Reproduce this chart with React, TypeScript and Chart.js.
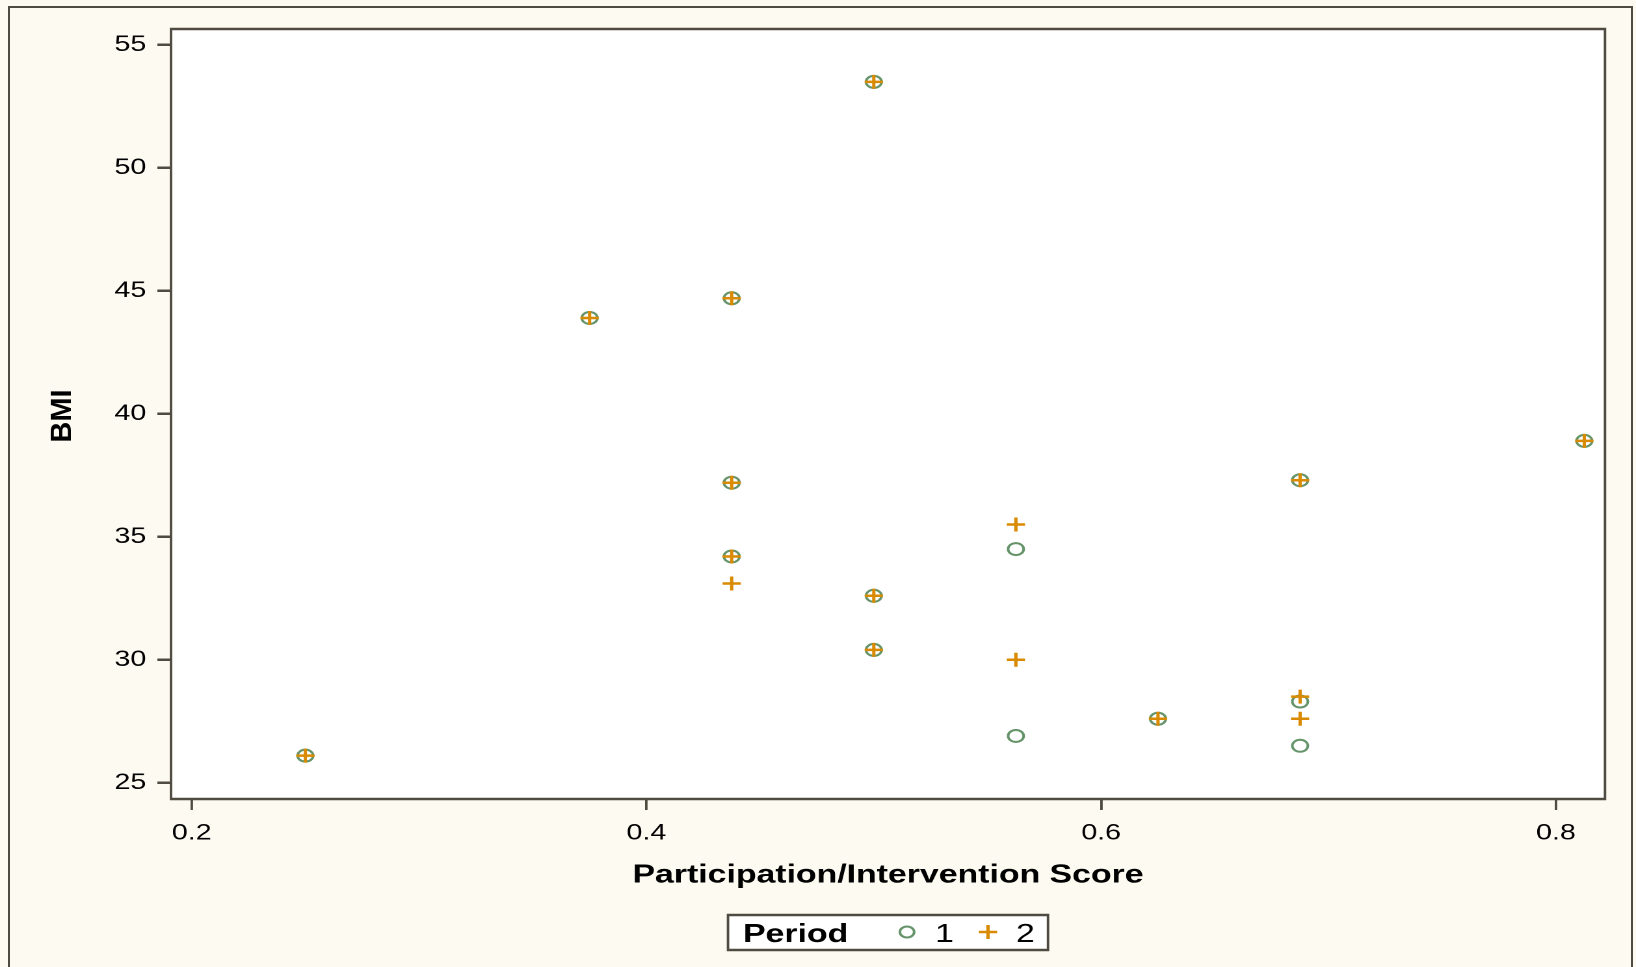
import React, { useEffect, useRef } from 'react';
import { Chart, registerables } from 'chart.js';

Chart.register(...registerables);

// Page and drawing surface. The canvas is laid out narrower and widened with
// a horizontal CSS scale, which gives the wide glyphs and oval markers.
const PAGE_W = 1636;
const PAGE_H = 967;
const CANVAS_W = 1258;
const SX = PAGE_W / CANVAS_W;

const FONT = '"Liberation Sans", Arial, Helvetica, sans-serif';
const BG = '#fdfaf2';
const FRAME = '#4f4b40';
const GREEN = '#66946a';
const ORANGE = '#d98a00';

const xTicks = [0.2, 0.4, 0.6, 0.8];
const yTicks = [25, 30, 35, 40, 45, 50, 55];

const xTitle = 'Participation/Intervention Score';
const yTitle = 'BMI';
const legendTitle = 'Period';
const seriesNames = ['1', '2'];

// Period 1 (circles)
const period1X = [0.25, 0.375, 0.4375, 0.5, 0.4375, 0.4375, 0.5, 0.5, 0.5625, 0.5625, 0.625, 0.6875, 0.6875, 0.6875, 0.8125];
const period1Y = [26.1, 43.9, 44.7, 53.5, 37.2, 34.2, 32.6, 30.4, 34.5, 26.9, 27.6, 37.3, 28.3, 26.5, 38.9];

// Period 2 (plus signs)
const period2X = [0.25, 0.375, 0.4375, 0.5, 0.4375, 0.4375, 0.4375, 0.5, 0.5, 0.5625, 0.5625, 0.625, 0.6875, 0.6875, 0.6875, 0.8125];
const period2Y = [26.1, 43.9, 44.7, 53.5, 37.2, 34.2, 33.1, 32.6, 30.4, 35.5, 30.0, 27.6, 37.3, 28.5, 27.6, 38.9];

const toPoints = (xs: number[], ys: number[]) => xs.map((x, i) => ({ x, y: ys[i] }));

const decorPlugin = {
  id: 'decor',
  beforeDraw(chart: any) {
    const { ctx, chartArea: a } = chart;
    ctx.save();
    ctx.fillStyle = '#ffffff';
    ctx.fillRect(a.left, a.top, a.right - a.left, a.bottom - a.top);
    ctx.restore();
  },
  afterDraw(chart: any) {
    const { ctx, chartArea: a } = chart;

    // plot border and y title, drawn in unstretched page units
    ctx.save();
    ctx.scale(1 / SX, 1);
    ctx.strokeStyle = FRAME;
    ctx.lineWidth = 2.5;
    ctx.strokeRect(a.left * SX, a.top, (a.right - a.left) * SX, a.bottom - a.top);

    ctx.fillStyle = '#000';
    ctx.font = `bold 29px ${FONT}`;
    ctx.textAlign = 'center';
    ctx.textBaseline = 'alphabetic';
    ctx.translate(71, (a.top + a.bottom) / 2 + 2);
    ctx.rotate(-Math.PI / 2);
    ctx.fillText(yTitle, 0, 0);
    ctx.restore();

    // legend
    const cx = (a.left + a.right) / 2;
    const boxW = 320 / SX;
    const bx = cx - boxW / 2;
    const by = 915;
    const bh = 35;
    ctx.save();
    ctx.scale(1 / SX, 1);
    ctx.fillStyle = '#ffffff';
    ctx.fillRect(bx * SX, by, boxW * SX, bh);
    ctx.strokeStyle = FRAME;
    ctx.lineWidth = 2.5;
    ctx.strokeRect(bx * SX, by, boxW * SX, bh);
    ctx.restore();

    ctx.save();
    ctx.fillStyle = '#000';
    ctx.textBaseline = 'alphabetic';
    ctx.textAlign = 'left';
    const baseY = 942;
    ctx.font = `bold 26px ${FONT}`;
    ctx.fillText(legendTitle, bx + 15 / SX, baseY);
    ctx.font = `26px ${FONT}`;
    ctx.fillText(seriesNames[0], bx + 207 / SX, baseY);
    ctx.fillText(seriesNames[1], bx + 288 / SX, baseY);

    const my = 932;
    ctx.strokeStyle = GREEN;
    ctx.lineWidth = 2;
    ctx.beginPath();
    ctx.arc(bx + 179 / SX, my, 5.5, 0, Math.PI * 2);
    ctx.stroke();

    const px = bx + 260 / SX;
    ctx.strokeStyle = ORANGE;
    ctx.lineWidth = 2.5;
    ctx.beginPath();
    ctx.moveTo(px - 7, my);
    ctx.lineTo(px + 7, my);
    ctx.moveTo(px, my - 7);
    ctx.lineTo(px, my + 7);
    ctx.stroke();
    ctx.restore();
  },
};

export default function App() {
  const canvasRef = useRef<HTMLCanvasElement | null>(null);

  useEffect(() => {
    const canvas = canvasRef.current;
    if (!canvas) return;
    const chart = new Chart(canvas, {
      type: 'scatter',
      data: {
        datasets: [
          {
            label: seriesNames[0],
            data: toPoints(period1X, period1Y),
            pointStyle: 'circle',
            pointRadius: 6,
            borderWidth: 2,
            borderColor: GREEN,
            backgroundColor: 'rgba(0,0,0,0)',
            order: 2,
          },
          {
            label: seriesNames[1],
            data: toPoints(period2X, period2Y),
            pointStyle: 'cross',
            pointRadius: 7,
            borderWidth: 2.5,
            borderColor: ORANGE,
            backgroundColor: ORANGE,
            order: 1,
          },
        ],
      },
      options: {
        animation: false,
        responsive: true,
        maintainAspectRatio: false,
        devicePixelRatio: 2,
        events: [],
        layout: { padding: { top: 29, right: CANVAS_W - 1605 / SX, bottom: 76, left: 0 } },
        plugins: { legend: { display: false }, tooltip: { enabled: false } },
        scales: {
          x: {
            type: 'linear',
            min: 0.1909,
            max: 0.8216,
            afterBuildTicks: (s: any) => {
              s.ticks = xTicks.map((v) => ({ value: v }));
            },
            afterFit: (s: any) => {
              s.height = 92;
            },
            grid: {
              drawOnChartArea: false,
              drawTicks: true,
              tickLength: 11,
              color: FRAME,
              lineWidth: 2.5 / SX,
            },
            border: { display: false },
            ticks: {
              padding: 10,
              color: '#000',
              font: { family: FONT, size: 22 },
              callback: (v: any) => Number(v).toFixed(1),
            },
            title: {
              display: true,
              text: xTitle,
              color: '#000',
              font: { family: FONT, size: 26, weight: 'bold' },
              padding: 0,
            },
          },
          y: {
            type: 'linear',
            min: 24.337,
            max: 55.65,
            afterBuildTicks: (s: any) => {
              s.ticks = yTicks.map((v) => ({ value: v }));
            },
            afterFit: (s: any) => {
              s.width = 171 / SX;
            },
            grid: {
              drawOnChartArea: false,
              drawTicks: true,
              tickLength: 10.5,
              color: FRAME,
              lineWidth: 2.5,
            },
            border: { display: false },
            ticks: {
              padding: 8.5,
              color: '#000',
              font: { family: FONT, size: 22 },
            },
          },
        },
      },
      plugins: [decorPlugin],
    });
    return () => chart.destroy();
  }, []);

  return (
    <div
      style={{
        position: 'fixed',
        left: 0,
        top: 0,
        width: PAGE_W,
        height: PAGE_H,
        background: BG,
        overflow: 'hidden',
      }}
    >
      <div
        style={{
          position: 'absolute',
          left: 8,
          top: 6,
          width: 1625,
          height: 1000,
          border: `2.5px solid ${FRAME}`,
          boxSizing: 'border-box',
        }}
      />
      <div
        style={{
          position: 'absolute',
          left: 0,
          top: 0,
          width: CANVAS_W,
          height: PAGE_H,
          transform: `scaleX(${SX})`,
          transformOrigin: '0 0',
        }}
      >
        <canvas ref={canvasRef} />
      </div>
    </div>
  );
}
